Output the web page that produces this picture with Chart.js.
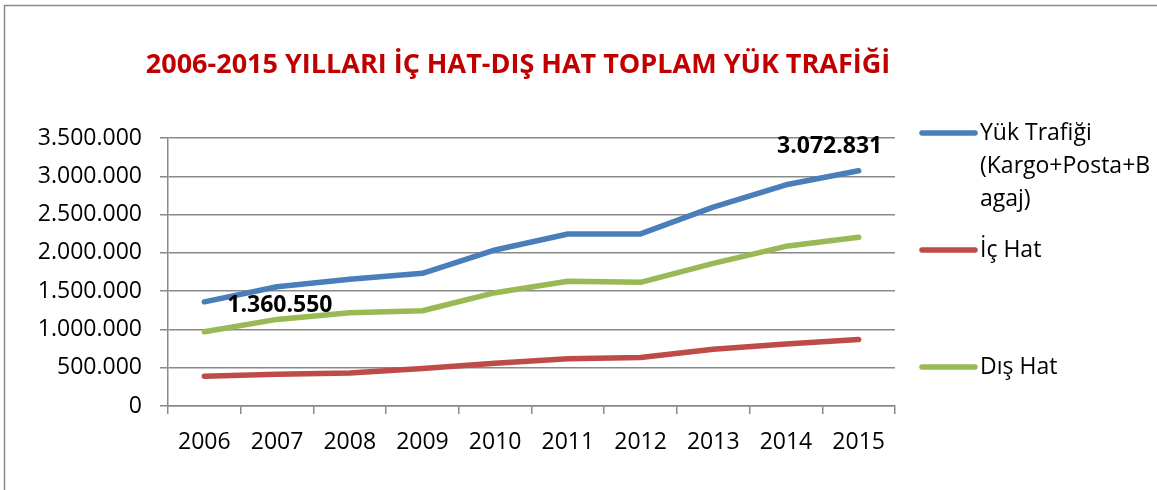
<!DOCTYPE html>
<html><head><meta charset="utf-8">
<script src="https://cdn.jsdelivr.net/npm/chart.js@4.4.0/dist/chart.umd.min.js"></script>
<style>html,body{margin:0;padding:0;background:#fff;overflow:hidden}canvas{display:block}</style>
</head><body>
<canvas id="c" width="1157" height="490"></canvas>
<script>
const chartTitle = '2006-2015 YILLARI İÇ HAT-DIŞ HAT TOPLAM YÜK TRAFİĞİ';
const years = ['2006','2007','2008','2009','2010','2011','2012','2013','2014','2015'];
const yukTrafigi = [1360550, 1558000, 1654000, 1733000, 2038000, 2247000, 2247000, 2597000, 2889000, 3072831];
const icHat = [390000, 415000, 430000, 489000, 558000, 617000, 632000, 740000, 810000, 869000];
const disHat = [969000, 1131000, 1217000, 1244000, 1480000, 1628000, 1615000, 1862000, 2085000, 2204000];
const seriesNames = ['Yük Trafiği (Kargo+Posta+Bagaj)', 'İç Hat', 'Dış Hat'];
const seriesColors = ['#4A7EBB', '#BE4B48', '#98B954'];
const yMax = 3500000;
const yStep = 500000;
const labelledPoints = [0, 9]; // indices of Yük Trafiği with value labels

const fmt = n => String(n).replace(/\B(?=(\d{3})+(?!\d))/g, '.');
const FONT = "'Open Sans', 'DejaVu Sans', sans-serif";
const gridColor = '#898989';

const deco = {
  id: 'deco',
  beforeDraw(chart) {
    const ctx = chart.ctx;
    ctx.save();
    ctx.fillStyle = '#fff';
    ctx.fillRect(0, 0, chart.width, chart.height);
    ctx.strokeStyle = '#8a8a8a';
    ctx.lineWidth = 1.5;
    ctx.beginPath();
    ctx.moveTo(4.5, chart.height);
    ctx.lineTo(4.5, 5.5);
    ctx.lineTo(chart.width, 5.5);
    ctx.stroke();
    ctx.restore();
  },
  afterDraw(chart) {
    const ctx = chart.ctx;
    ctx.save();
    // title
    ctx.fillStyle = '#C00000';
    ctx.font = `bold 27px ${FONT}`;
    ctx.textAlign = 'center';
    ctx.textBaseline = 'alphabetic';
    ctx.fillText(chartTitle, 518, 73);
    // value labels
    ctx.fillStyle = '#000';
    ctx.font = `bold 23px ${FONT}`;
    const meta = chart.getDatasetMeta(0);
    labelledPoints.forEach((idx, k) => {
      const p = meta.data[idx];
      const txt = fmt(chart.data.datasets[0].data[idx]);
      if (k === 0) {
        ctx.textAlign = 'left';
        ctx.fillText(txt, p.x + 23, p.y + 10);
      } else {
        ctx.textAlign = 'center';
        ctx.fillText(txt, p.x - 29, p.y - 18);
      }
    });
    // legend
    const legendTop = [133, 250, 367];
    const textX = 980, maxW = 176, lh = 33;
    ctx.font = `23px ${FONT}`;
    ctx.textAlign = 'left';
    chart.data.datasets.forEach((ds, i) => {
      const y = legendTop[i];
      ctx.strokeStyle = ds.borderColor;
      ctx.lineWidth = 5.5;
      ctx.lineCap = 'round';
      ctx.beginPath();
      ctx.moveTo(922, y);
      ctx.lineTo(975, y);
      ctx.stroke();
      // wrap label
      const lines = [];
      let cur = '';
      ds.label.split(' ').forEach(word => {
        const trial = cur ? cur + ' ' + word : word;
        if (ctx.measureText(trial).width <= maxW) { cur = trial; return; }
        if (cur) { lines.push(cur); cur = ''; }
        let w = '';
        for (const ch of word) {
          if (ctx.measureText(w + ch).width > maxW) { lines.push(w); w = ch; }
          else w += ch;
        }
        cur = w;
      });
      if (cur) lines.push(cur);
      ctx.fillStyle = '#000';
      lines.forEach((ln, j) => ctx.fillText(ln, textX, y + 7 + j * lh));
    });
    ctx.restore();
  }
};

const mkDs = (label, data, color) => ({
  label, data,
  borderColor: color, backgroundColor: color,
  borderWidth: 5.5, pointRadius: 0, tension: 0,
  borderCapStyle: 'round', borderJoinStyle: 'round', fill: false
});

new Chart(document.getElementById('c'), {
  type: 'line',
  data: {
    labels: years,
    datasets: [
      mkDs(seriesNames[0], yukTrafigi, seriesColors[0]),
      mkDs(seriesNames[1], icHat, seriesColors[1]),
      mkDs(seriesNames[2], disHat, seriesColors[2])
    ]
  },
  options: {
    responsive: false,
    devicePixelRatio: 1,
    animation: false,
    layout: { padding: { left: 0, top: 138, right: 262, bottom: 0 } },
    plugins: { legend: { display: false }, title: { display: false }, tooltip: { enabled: false } },
    scales: {
      x: {
        offset: true,
        grid: { offset: true, drawOnChartArea: false, drawTicks: true, tickLength: 8, color: gridColor, lineWidth: 1.5 },
        border: { color: gridColor, width: 1.5 },
        ticks: { color: '#000', font: { family: FONT, size: 23 }, padding: 15, maxRotation: 0, autoSkip: false },
        afterFit: s => { s.height = 84; }
      },
      y: {
        min: 0, max: yMax,
        grid: { color: gridColor, lineWidth: 1.5, tickLength: 8, drawTicks: true },
        border: { color: gridColor, width: 1.5 },
        ticks: { stepSize: yStep, color: '#000', font: { family: FONT, size: 23 }, padding: 18, callback: v => fmt(v) },
        afterFit: s => { s.width = 168; }
      }
    }
  },
  plugins: [deco]
});
</script>
</body></html>
